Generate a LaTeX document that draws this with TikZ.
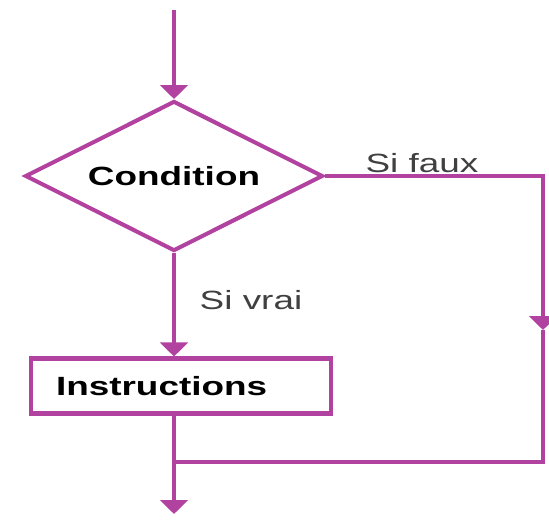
\documentclass[tikz,border=0pt]{standalone}
\usepackage{fontspec}
\setmainfont{Liberation Sans}
\newfontfamily\widefont[FakeStretch=1.4]{Liberation Sans}
\usetikzlibrary{shapes.geometric,arrows.meta}
\definecolor{flowpink}{RGB}{178,66,160}
\begin{document}
\begin{tikzpicture}[x=0.02cm,y=-0.02cm]
\tikzstyle{decision} = [diamond,aspect=2,draw=flowpink,line width=2.3pt,minimum width=5.96cm,minimum height=3cm,inner sep=0pt,font=\widefont\bfseries\fontsize{15}{18}\selectfont];
\tikzstyle{block} = [draw=flowpink,line width=2.3pt,text width=5cm,align=left,inner xsep=0.5cm,minimum height=1.1cm,font=\widefont\bfseries\fontsize{15}{18}\selectfont];
\tikzstyle{label} = [font=\widefont\fontsize{15}{18}\selectfont,text=black!75];
\tikzstyle{flow} = [draw=flowpink,line width=2.3pt,-{Triangle[width=0.55cm,length=0.28cm]}];
\tikzstyle{back} = [draw=flowpink,line width=1.8pt];

\useasboundingbox (0,0) rectangle (549,522);

\node [decision] (cond) at (174,176) {Condition};
\node [block] (instr) at (181,386) {Instructions};
\node [label] (faux) at (422,163) {Si faux};
\node [label] (vrai) at (251,300) {Si vrai};

\coordinate (start) at (174,10);
\coordinate (c1) at (543,176);
\coordinate (c2) at (543,330);
\coordinate (c3) at (543,462);
\coordinate (c4) at (174,462);
\coordinate (end) at (174,514);

\draw [flow] (start) -- (cond.north);
\draw [flow] (cond.south) -- (cond.south |- instr.north);
%\draw [flow] (instr.south) -- (end);
\draw [flow] (cond.south |- instr.south) -- (end);
\draw [back,-{Triangle[width=0.55cm,length=0.28cm]}] (cond.east) -- (c1) -- (c2);
\draw [back] (c2) -- (c3) -- (c4);
\end{tikzpicture}
\end{document}
